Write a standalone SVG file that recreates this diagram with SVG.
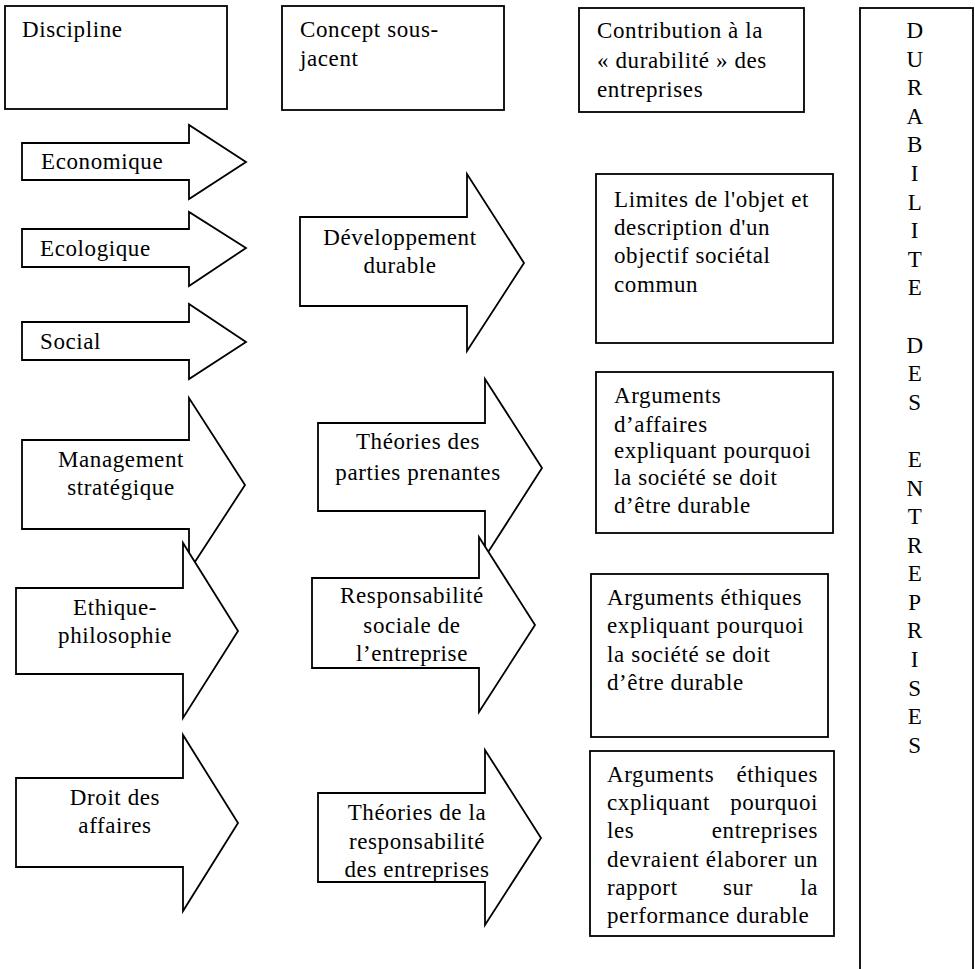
<svg xmlns="http://www.w3.org/2000/svg" width="975" height="969" viewBox="0 0 975 969">
<style>
.b{fill:#fff;stroke:#000;stroke-width:1.8;stroke-linejoin:miter}
text{font-family:"Liberation Serif","Times New Roman",serif;font-size:23px;fill:#000;letter-spacing:0.6px}
.c{text-anchor:middle}
.v{text-anchor:middle}
.e{text-anchor:end}
</style>
<rect width="975" height="969" fill="#fff"/>
<g id="h-discipline"><rect class="b" x="5" y="6" width="222" height="103"/><text x="22" y="37">Discipline</text></g>
<g id="h-concept"><rect class="b" x="282" y="6" width="222" height="104"/><text x="300" y="37">Concept sous-</text><text x="300" y="66">jacent</text></g>
<g id="h-contribution"><rect class="b" x="579" y="8" width="225" height="104"/><text x="597" y="38">Contribution à la</text><text x="597" y="68">« durabilité » des</text><text x="597" y="97">entreprises</text></g>
<g id="durabilite"><rect class="b" x="860" y="8" width="113" height="980"/>
<text class="v" x="915" y="38">D</text><text class="v" x="915" y="67">U</text><text class="v" x="915" y="95">R</text><text class="v" x="915" y="124">A</text><text class="v" x="915" y="152">B</text><text class="v" x="915" y="181">I</text><text class="v" x="915" y="210">L</text><text class="v" x="915" y="238">I</text><text class="v" x="915" y="267">T</text><text class="v" x="915" y="295">E</text>
<text class="v" x="915" y="353">D</text><text class="v" x="915" y="381">E</text><text class="v" x="915" y="410">S</text>
<text class="v" x="915" y="467">E</text><text class="v" x="915" y="496">N</text><text class="v" x="915" y="524">T</text><text class="v" x="915" y="553">R</text><text class="v" x="915" y="581">E</text><text class="v" x="915" y="610">P</text><text class="v" x="915" y="638">R</text><text class="v" x="915" y="667">I</text><text class="v" x="915" y="696">S</text><text class="v" x="915" y="724">E</text><text class="v" x="915" y="753">S</text>
</g>
<g id="a-economique"><polygon class="b" points="22,143 189,143 189,125 246,162 189,199 189,180 22,180"/><text x="41" y="169">Economique</text></g>
<g id="a-ecologique"><polygon class="b" points="22,229 189,229 189,212 246,248 189,286 189,267 22,267"/><text x="40" y="256">Ecologique</text></g>
<g id="a-social"><polygon class="b" points="22,322 189,322 189,304 246,342 189,379 189,360 22,360"/><text x="40" y="349">Social</text></g>
<g id="a-management"><polygon class="b" points="22,440 189,440 189,398 245,485 189,571 189,529 22,529"/><text class="c" x="121" y="467">Management</text><text class="c" x="121" y="495">stratégique</text></g>
<g id="a-ethique"><polygon class="b" points="16,588 183,588 183,543 238,631 183,718 183,674 16,674"/><text class="c" x="115" y="615">Ethique-</text><text class="c" x="115" y="643">philosophie</text></g>
<g id="a-droit"><polygon class="b" points="16,778 183,778 183,735 238,823 183,911 183,867 16,867"/><text class="c" x="115" y="805">Droit des</text><text class="c" x="115" y="833">affaires</text></g>
<g id="a-developpement"><polygon class="b" points="300,217 467,217 467,174 524,263 467,351 467,306 300,306"/><text class="c" x="400" y="245">Développement</text><text class="c" x="400" y="273">durable</text></g>
<g id="a-parties"><polygon class="b" points="318,423 485,423 485,379 542,468 485,557 485,511 318,511"/><text class="c" x="418" y="449">Théories des</text><text class="c" x="418" y="480">parties prenantes</text></g>
<g id="a-rse"><polygon class="b" points="312,578 479,578 479,537 535,625 479,712 479,668 312,668"/><text class="c" x="412" y="603">Responsabilité</text><text class="c" x="412" y="633">sociale de</text><text class="c" x="412" y="661">l’entreprise</text></g>
<g id="a-theories-resp"><polygon class="b" points="318,793 485,793 485,750 541,838 485,925 485,882 318,882"/><text class="c" x="417" y="820">Théories de la</text><text class="c" x="417" y="849">responsabilité</text><text class="c" x="417" y="877">des entreprises</text></g>
<g id="r-limites"><rect class="b" x="596" y="174" width="237" height="169"/><text x="614" y="207">Limites de l'objet et</text><text x="614" y="235">description d'un</text><text x="614" y="263">objectif sociétal</text><text x="614" y="292">commun</text></g>
<g id="r-affaires"><rect class="b" x="596" y="372" width="237" height="161"/><text x="614" y="403">Arguments</text><text x="614" y="432">d’affaires</text><text x="614" y="458">expliquant pourquoi</text><text x="614" y="485">la société se doit</text><text x="614" y="513">d’être durable</text></g>
<g id="r-ethiques"><rect class="b" x="591" y="574" width="237" height="163"/><text x="607" y="605">Arguments éthiques</text><text x="607" y="633">expliquant pourquoi</text><text x="607" y="662">la société se doit</text><text x="607" y="690">d’être durable</text></g>
<g id="r-rapport"><rect class="b" x="590" y="751" width="244" height="185"/>
<text x="607" y="782">Arguments</text><text class="e" x="818" y="782">éthiques</text>
<text x="607" y="810">cxpliquant</text><text class="e" x="818" y="810">pourquoi</text>
<text x="607" y="838">les</text><text class="e" x="818" y="838">entreprises</text>
<text x="607" y="867" textLength="211" lengthAdjust="spacing">devraient élaborer un</text>
<text x="607" y="895">rapport</text><text x="723" y="895">sur</text><text class="e" x="818" y="895">la</text>
<text x="607" y="923">performance durable</text>
</g>
</svg>
